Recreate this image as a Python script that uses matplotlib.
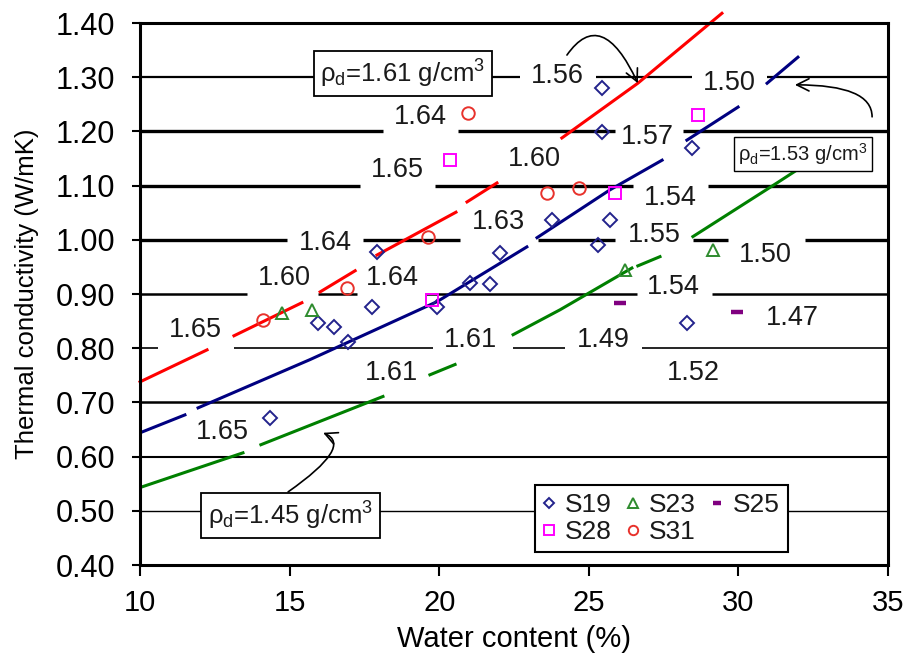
import numpy as np
import matplotlib
matplotlib.use("Agg")
import matplotlib.pyplot as plt


# ==========================================
# Data
# ==========================================

nan = np.nan

# fitted curves (broken where the density labels sit)
red_x = [10.0, 12.24, nan, 13.14, 15.41, nan, 16.02, 17.19, nan, 17.92, 20.56, nan,
         20.93, 21.93, nan, 24.10, 26.64, 29.45]
red_y = [0.738, 0.797, nan, 0.823, 0.884, nan, 0.904, 0.943, nan, 0.972, 1.051, nan,
         1.070, 1.105, nan, 1.188, 1.289, 1.418]

blue_x = [10.0, 11.50, nan, 11.94, 15.68, 19.93, 22.93, nan, 23.27, 25.70, 27.45, nan,
          28.28, 29.99, nan, 30.96, 31.99]
blue_y = [0.644, 0.677, nan, 0.690, 0.779, 0.886, 0.987, nan, 1.004, 1.092, 1.147, nan,
          1.184, 1.245, nan, 1.289, 1.337]

green_x = [10.0, 13.44, nan, 14.04, 18.12, nan, 19.69, 20.53, nan, 22.47, 24.04, 26.44, nan,
           26.64, 27.38, nan, 28.48, 31.29, 31.96]
green_y = [0.543, 0.607, nan, 0.622, 0.711, nan, 0.751, 0.770, nan, 0.825, 0.871, 0.948, nan,
           0.952, 0.969, nan, 1.006, 1.105, 1.129]

# measured points
s19_x = [25.44, 25.44, 28.45, 23.77, 25.71, 25.31, 22.03, 21.03, 21.70, 17.92, 17.75,
         19.93, 15.95, 16.48, 16.95, 14.34, 28.28]
s19_y = [1.280, 1.199, 1.170, 1.037, 1.037, 0.991, 0.976, 0.921, 0.919, 0.978, 0.877,
         0.877, 0.847, 0.840, 0.812, 0.672, 0.847]

s23_x = [14.75, 15.75, 26.21, 29.15]
s23_y = [0.865, 0.871, 0.945, 0.982]

s25_x = [26.04, 29.95]
s25_y = [0.884, 0.867]

s28_x = [20.36, 25.88, 28.65, 19.76]
s28_y = [1.147, 1.087, 1.230, 0.889]

s31_x = [20.96, 23.60, 24.67, 19.63, 16.92, 14.11]
s31_y = [1.234, 1.087, 1.096, 1.006, 0.912, 0.853]

# dry density contour labels
density_text = ["1.56", "1.50", "1.64", "1.57", "1.65", "1.60", "1.54", "1.63", "1.64",
                "1.55", "1.50", "1.60", "1.64", "1.54", "1.65", "1.61", "1.49", "1.47",
                "1.61", "1.52", "1.65"]
density_x = [23.94, 29.69, 19.36, 26.95, 18.59, 23.17, 27.71, 21.97, 16.18,
             27.18, 30.89, 14.81, 18.42, 27.82, 11.84, 21.06, 25.47, 31.79,
             18.39, 28.48, 12.74]
density_y = [1.302, 1.289, 1.227, 1.190, 1.129, 1.149, 1.077, 1.033, 0.995,
             1.009, 0.972, 0.930, 0.930, 0.913, 0.834, 0.816, 0.816, 0.856,
             0.755, 0.755, 0.646]

# horizontal contour lines and the gaps left for labels
grid_levels = [1.30, 1.20, 1.10, 1.00, 0.90, 0.80, 0.70, 0.60, 0.50]
grid_widths = [1.6, 2.4, 2.4, 2.4, 1.8, 1.2, 1.8, 1.5, 1.0]
grid_gaps = {
    1.30: [(22.7, 25.25), (28.45, 30.95)],
    1.20: [(18.12, 20.63), (25.88, 28.15)],
    1.10: [(17.35, 19.86), (26.48, 28.98)],
    1.00: [(14.91, 17.45), (20.7, 23.3), (25.88, 28.48), (29.65, 32.22)],
    0.90: [(13.58, 15.95), (17.25, 19.52), (26.61, 29.12)],
    0.80: [(10.6, 13.14), (19.79, 22.47), (24.2, 26.78)],
}


# ==========================================
# Plot
# ==========================================

plt.rcParams["font.family"] = ["Liberation Sans", "DejaVu Sans"]
plt.rcParams["mathtext.default"] = "regular"
plt.rcParams["text.color"] = "#1a1a1a"

fig = plt.figure(figsize=(9.07, 6.59), dpi=100)
ax = fig.add_axes([0.1544, 0.1426, 0.8246, 0.8224])

ax.set_xlim(10, 35)
ax.set_ylim(0.40, 1.40)

for level, lw in zip(grid_levels, grid_widths):
    start = 10.0
    for g0, g1 in grid_gaps.get(level, []):
        ax.hlines(level, start, g0, color="black", lw=lw, zorder=1)
        start = g1
    ax.hlines(level, start, 35, color="black", lw=lw, zorder=1)

ax.plot(red_x, red_y, color="#ff0000", lw=2.2, zorder=3, clip_on=False)
ax.plot(blue_x, blue_y, color="#000080", lw=2.2, zorder=3)
ax.plot(green_x, green_y, color="#008000", lw=2.2, zorder=3)

mk = dict(ls="none", mfc="none", zorder=4)
h19, = ax.plot(s19_x, s19_y, marker="D", ms=7, mec="#23238c", mew=1.4, label="S19", **mk)
h23, = ax.plot(s23_x, s23_y, marker="^", ms=9, mec="#2e8b2e", mew=1.4, label="S23", **mk)
h25, = ax.plot(s25_x, s25_y, marker="_", ms=8, mec="#800080", mew=3.2, label="S25", **mk)
h28, = ax.plot(s28_x, s28_y, marker="s", ms=9, mec="#ff00ff", mew=1.4, label="S28", **mk)
h31, = ax.plot(s31_x, s31_y, marker="o", ms=9, mec="#e8322c", mew=1.4, label="S31", **mk)

for txt, x, y in zip(density_text, density_x, density_y):
    ax.text(x, y, txt, fontsize=19.5, ha="center", va="center", zorder=5)

box = dict(boxstyle="square,pad=0.25", fc="white", ec="black", lw=1.3)
ax.text(18.79, 1.307, r"ρ$_d$=1.61 g/cm$^3$", fontsize=18.5, ha="center", va="center",
        bbox=box, zorder=6)
ax.text(32.16, 1.159, r"ρ$_d$=1.53 g/cm$^3$", fontsize=14.5, ha="center", va="center",
        bbox=dict(boxstyle="square,pad=0.2", fc="white", ec="black", lw=1.0), zorder=6)
ax.text(15.03, 0.491, r"ρ$_d$=1.45 g/cm$^3$", fontsize=18.5, ha="center", va="center",
        bbox=box, zorder=6)

arrow = dict(arrowstyle="->", color="black", lw=1.2, mutation_scale=22,
             shrinkA=0, shrinkB=0)
ax.annotate("", xy=(26.64, 1.289), xytext=(24.27, 1.341),
            arrowprops=dict(connectionstyle="angle3,angleA=55,angleB=115", **arrow),
            zorder=6, annotation_clip=False)
ax.annotate("", xy=(31.89, 1.286), xytext=(34.47, 1.227),
            arrowprops=dict(connectionstyle="angle3,angleA=90,angleB=0", **arrow),
            zorder=6)
ax.annotate("", xy=(16.12, 0.644), xytext=(14.95, 0.535),
            arrowprops=dict(connectionstyle="angle3,angleA=35,angleB=157", **arrow),
            zorder=6)

leg = ax.legend(handles=[h19, h28, h23, h31, h25], ncol=3, loc="lower left",
                bbox_to_anchor=(0.528, 0.024), borderaxespad=0, fontsize=19,
                handlelength=0.5, handletextpad=0.35, columnspacing=0.55,
                labelspacing=0.12, borderpad=0.3, fancybox=False, framealpha=1,
                edgecolor="black", markerscale=0.75)
leg.get_frame().set_linewidth(1.5)
leg.set_zorder(7)

ax.set_xticks([10, 15, 20, 25, 30, 35])
ax.set_yticks(np.arange(0.40, 1.41, 0.10))
ax.set_yticklabels([f"{v:.2f}" for v in np.arange(0.40, 1.41, 0.10)])
ax.tick_params(axis="x", labelsize=21, length=8, width=1.5, direction="out", pad=9)
ax.tick_params(axis="y", labelsize=22, length=6, width=1.5, direction="out", pad=12)

for s in ax.spines.values():
    s.set_linewidth(2.2)
    s.set_zorder(8)

ax.set_xlabel("Water content (%)", fontsize=21, labelpad=6)
ax.set_ylabel("Thermal conductivity (W/mK)", fontsize=18.5, labelpad=12)

fig.savefig("out.png", dpi=100)
